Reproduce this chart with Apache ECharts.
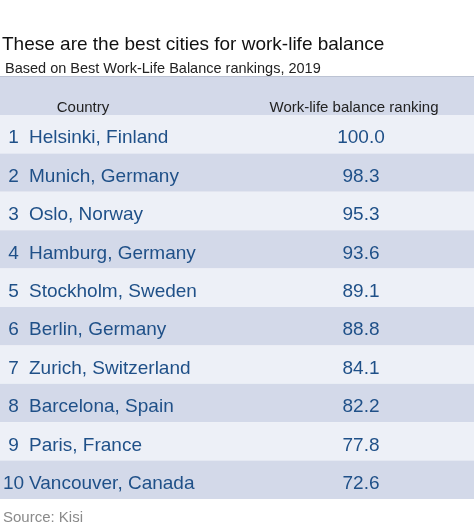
<!DOCTYPE html>
<html>
<head>
<meta charset="utf-8">
<script src="https://cdn.jsdelivr.net/npm/echarts@6/dist/echarts.min.js"></script>
<style>
  html, body { margin: 0; padding: 0; background: #fff; }
  #main { width: 474px; height: 528px; }
</style>
</head>
<body>
<div id="main"></div>
<script>
// table data
const ranks = ['1', '2', '3', '4', '5', '6', '7', '8', '9', '10'];
const cities = ['Helsinki, Finland', 'Munich, Germany', 'Oslo, Norway', 'Hamburg, Germany', 'Stockholm, Sweden',
  'Berlin, Germany', 'Zurich, Switzerland', 'Barcelona, Spain', 'Paris, France', 'Vancouver, Canada'];
const scores = [100.0, 98.3, 95.3, 93.6, 89.1, 88.8, 84.1, 82.2, 77.8, 72.6];
const headers = ['Country', 'Work-life balance ranking'];

const font = '"Liberation Sans", Arial, Helvetica, sans-serif';
const blue = '#1f5088';
const dark = '#d3d9e9';
const light = '#edf0f7';

const chart = echarts.init(document.getElementById('main'));

const option = {
  animation: false,
  grid: { left: 0, right: 0, top: 115, bottom: 29 },
  xAxis: { type: 'value', min: 0, max: 100, show: false },
  yAxis: {
    type: 'category',
    data: cities,
    inverse: true,
    axisLine: { show: false },
    axisTick: { show: false },
    axisLabel: { show: false },
    splitLine: { show: false },
    // alternating row backgrounds
    splitArea: { show: true, areaStyle: { color: [light, dark] } }
  },
  graphic: [
    { type: 'text', left: 2, top: 35, style: { text: 'These are the best cities for work-life balance', font: '19px ' + font, fill: '#111' } },
    { type: 'text', left: 5, top: 61, style: { text: 'Based on Best Work-Life Balance rankings, 2019', font: '14.5px ' + font, fill: '#222' } },
    // header row
    { type: 'rect', shape: { x: 0, y: 77, width: 474, height: 38 }, style: { fill: dark } },
    { type: 'rect', shape: { x: 0, y: 76, width: 474, height: 1 }, style: { fill: '#bcc3d3' } },
    { type: 'text', x: 83, y: 107.5, style: { text: headers[0], font: '15px ' + font, fill: '#222', align: 'center', verticalAlign: 'middle' } },
    { type: 'text', x: 354, y: 107.5, style: { text: headers[1], font: '15px ' + font, fill: '#222', align: 'center', verticalAlign: 'middle' } },
    { type: 'text', left: 3, top: 510, style: { text: 'Source: Kisi', font: '15px ' + font, fill: '#8a8a8a' } }
  ],
  series: [
    {
      type: 'custom',
      data: scores.map((s, i) => [s, i]),
      encode: { x: 0, y: 1 },
      renderItem: function (params, api) {
        const idx = api.value(1);
        const y = api.coord([0, idx])[1] + 4;
        const st = { font: '19px ' + font, fill: blue, verticalAlign: 'middle' };
        return {
          type: 'group',
          children: [
            { type: 'text', style: Object.assign({ text: ranks[idx], x: 13.5, y: y, align: 'center' }, st) },
            { type: 'text', style: Object.assign({ text: cities[idx], x: 29, y: y, align: 'left' }, st) },
            { type: 'text', style: Object.assign({ text: api.value(0).toFixed(1), x: 361, y: y, align: 'center' }, st) }
          ]
        };
      }
    }
  ]
};

chart.setOption(option);
</script>
</body>
</html>
